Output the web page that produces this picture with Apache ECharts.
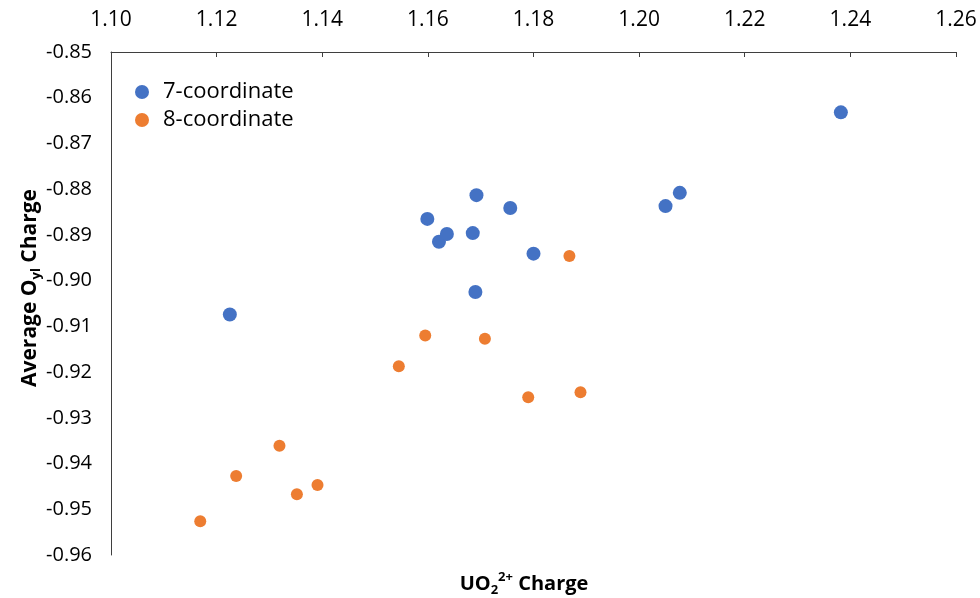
<!DOCTYPE html>
<html>
<head>
<meta charset="utf-8">
<script src="https://cdn.jsdelivr.net/npm/echarts@6/dist/echarts.min.js"></script>
<style>
html,body{margin:0;padding:0;background:#fff;}
#chart{width:980px;height:598px;}
</style>
</head>
<body>
<div id="chart"></div>
<script>
// Data
const seriesNames = ['7-coordinate', '8-coordinate'];
const coord7 = [
  [1.1225, -0.9074],
  [1.1599, -0.8865],
  [1.1621, -0.8915],
  [1.1636, -0.8898],
  [1.1692, -0.8813],
  [1.1685, -0.8896],
  [1.1756, -0.8841],
  [1.1690, -0.9025],
  [1.1800, -0.8941],
  [1.2050, -0.8837],
  [1.2077, -0.8808],
  [1.2382, -0.8632]
];
const coord8 = [
  [1.1868, -0.8946],
  [1.1595, -0.9120],
  [1.1708, -0.9127],
  [1.1545, -0.9187],
  [1.1790, -0.9255],
  [1.1889, -0.9244],
  [1.1319, -0.9361],
  [1.1237, -0.9427],
  [1.1352, -0.9467],
  [1.1391, -0.9447],
  [1.1169, -0.9526]
];
const xTicks = [1.10, 1.12, 1.14, 1.16, 1.18, 1.20, 1.22, 1.24, 1.26];
const yTicks = [-0.96, -0.95, -0.94, -0.93, -0.92, -0.91, -0.90, -0.89, -0.88, -0.87, -0.86, -0.85];

const chart = echarts.init(document.getElementById('chart'), null, {renderer: 'canvas'});
const axisColor = '#3f3f3f';
const option = {
  backgroundColor: '#ffffff',
  animation: false,
  grid: {left: 111, right: 24, top: 52, bottom: 43, containLabel: false},
  legend: {
    data: seriesNames,
    orient: 'vertical',
    left: 130,
    top: 74,
    itemGap: 2,
    itemWidth: 32,
    itemHeight: 14,
    icon: 'circle',
    textStyle: {fontFamily: 'Open Sans', fontSize: 22, color: '#000', lineHeight: 26}
  },
  xAxis: {
    type: 'value',
    position: 'top',
    min: xTicks[0],
    max: xTicks[xTicks.length - 1],
    interval: 0.02,
    axisLine: {show: true, lineStyle: {color: axisColor, width: 1}},
    axisTick: {show: true, inside: true, length: 5, lineStyle: {color: axisColor}},
    splitLine: {show: false},
    axisLabel: {
      margin: 21,
      fontFamily: 'Liberation Sans Narrow, Open Sans',
      fontSize: 21,
      color: '#000',
      formatter: v => v.toFixed(2)
    }
  },
  yAxis: {
    type: 'value',
    min: yTicks[0],
    max: yTicks[yTicks.length - 1],
    interval: 0.01,
    axisLine: {show: true, lineStyle: {color: axisColor, width: 1}},
    axisTick: {show: false},
    splitLine: {show: false},
    axisLabel: {
      margin: 19,
      fontFamily: 'Open Sans',
      fontSize: 20,
      color: '#000',
      formatter: v => v.toFixed(2)
    }
  },
  graphic: [
    {
      type: 'text',
      x: 524,
      y: 584,
      style: {
        text: '{b|UO}{sub|2}{sup|2+}{b| Charge}',
        align: 'center',
        verticalAlign: 'middle',
        rich: {
          b: {fontFamily: 'Open Sans', fontWeight: 'bold', fontSize: 20, lineHeight: 26, color: '#000'},
          sub: {fontFamily: 'Open Sans', fontWeight: 'bold', fontSize: 13, lineHeight: 13, verticalAlign: 'bottom', color: '#000'},
          sup: {fontFamily: 'Open Sans', fontWeight: 'bold', fontSize: 13, lineHeight: 13, verticalAlign: 'top', color: '#000'}
        }
      }
    },
    {
      type: 'text',
      x: 30,
      y: 288,
      rotation: Math.PI / 2,
      style: {
        text: '{b|Average O}{sub|yl}{b| Charge}',
        align: 'center',
        verticalAlign: 'middle',
        rich: {
          b: {fontFamily: 'Open Sans', fontWeight: 'bold', fontSize: 21, lineHeight: 26, color: '#000'},
          sub: {fontFamily: 'Open Sans', fontWeight: 'bold', fontSize: 13, lineHeight: 13, verticalAlign: 'bottom', color: '#000'}
        }
      }
    }
  ],
  series: [
    {
      name: seriesNames[0],
      type: 'scatter',
      data: coord7,
      symbol: 'circle',
      symbolSize: 14,
      itemStyle: {color: '#4472C4', opacity: 1},
      z: 3
    },
    {
      name: seriesNames[1],
      type: 'scatter',
      data: coord8,
      symbol: 'circle',
      symbolSize: 12,
      itemStyle: {color: '#ED7D31', opacity: 1},
      z: 2
    }
  ]
};
chart.setOption(option);
</script>
</body>
</html>
